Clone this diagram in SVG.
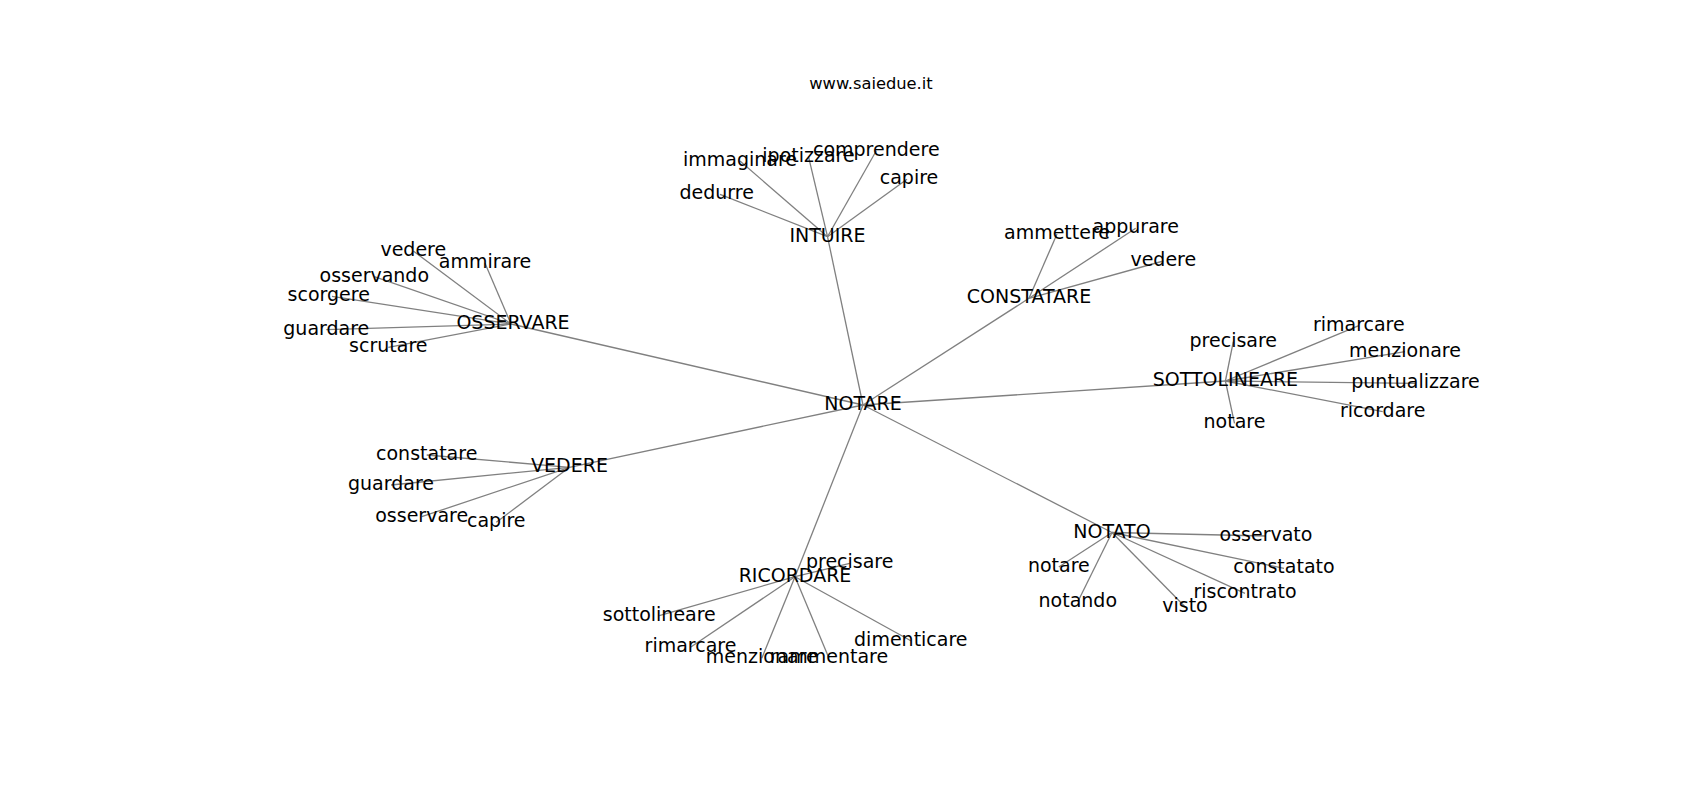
<svg xmlns="http://www.w3.org/2000/svg" width="1700" height="800" viewBox="0 0 1700 800">
<style>
text{font-family:"DejaVu Sans","Liberation Sans",sans-serif;font-size:19px;fill:#000;text-anchor:middle}
.title{font-size:16.3px}
.e line{stroke:#808080;stroke-width:1.3}
</style>
<rect width="1700" height="800" fill="#fff"/>
<text class="title" x="871" y="89">www.saiedue.it</text>
<g class="e" id="connectors">
<line x1="863" y1="405" x2="827.5" y2="236.7"/>
<line x1="863" y1="405" x2="1029" y2="298.3"/>
<line x1="863" y1="405" x2="1225.4" y2="381"/>
<line x1="863" y1="405" x2="1112" y2="532.5"/>
<line x1="863" y1="405" x2="795" y2="576.7"/>
<line x1="863" y1="405" x2="569.5" y2="467.3"/>
<line x1="863" y1="405" x2="511" y2="324"/>
<line x1="827.5" y1="236.7" x2="740" y2="161"/>
<line x1="827.5" y1="236.7" x2="808.5" y2="156.7"/>
<line x1="827.5" y1="236.7" x2="876.3" y2="150.7"/>
<line x1="827.5" y1="236.7" x2="907" y2="179.3"/>
<line x1="827.5" y1="236.7" x2="720" y2="194.3"/>
<line x1="511" y1="324" x2="413.3" y2="251"/>
<line x1="511" y1="324" x2="485" y2="263.3"/>
<line x1="511" y1="324" x2="374.3" y2="276.7"/>
<line x1="511" y1="324" x2="332" y2="296.3"/>
<line x1="511" y1="324" x2="326.3" y2="329.7"/>
<line x1="511" y1="324" x2="388.3" y2="347.3"/>
<line x1="569.5" y1="467.3" x2="426.7" y2="455"/>
<line x1="569.5" y1="467.3" x2="391" y2="485"/>
<line x1="569.5" y1="467.3" x2="421.7" y2="516.7"/>
<line x1="569.5" y1="467.3" x2="496.3" y2="522.3"/>
<line x1="795" y1="576.7" x2="849.7" y2="563.3"/>
<line x1="795" y1="576.7" x2="659.3" y2="615.7"/>
<line x1="795" y1="576.7" x2="690.5" y2="647.3"/>
<line x1="795" y1="576.7" x2="761.8" y2="658.3"/>
<line x1="795" y1="576.7" x2="829" y2="658.3"/>
<line x1="795" y1="576.7" x2="910.8" y2="640.7"/>
<line x1="1112" y1="532.5" x2="1266" y2="536"/>
<line x1="1112" y1="532.5" x2="1058.8" y2="567"/>
<line x1="1112" y1="532.5" x2="1284" y2="568.3"/>
<line x1="1112" y1="532.5" x2="1077.8" y2="601.7"/>
<line x1="1112" y1="532.5" x2="1245" y2="593.3"/>
<line x1="1112" y1="532.5" x2="1185" y2="606.7"/>
<line x1="1225.4" y1="381" x2="1233.3" y2="341.7"/>
<line x1="1225.4" y1="381" x2="1358.8" y2="325.7"/>
<line x1="1225.4" y1="381" x2="1405" y2="351.7"/>
<line x1="1225.4" y1="381" x2="1415.5" y2="383.3"/>
<line x1="1225.4" y1="381" x2="1382.7" y2="411.7"/>
<line x1="1225.4" y1="381" x2="1234.5" y2="423.3"/>
<line x1="1029" y1="298.3" x2="1057" y2="234"/>
<line x1="1029" y1="298.3" x2="1135.7" y2="228.3"/>
<line x1="1029" y1="298.3" x2="1163.3" y2="261"/>
</g>
<g id="n-notare"><text x="863" y="410">NOTARE</text></g>
<g id="n-intuire"><text x="827.5" y="241.7">INTUIRE</text></g>
<g id="n-constatare"><text x="1029" y="303.3">CONSTATARE</text></g>
<g id="n-sottolineare"><text x="1225.4" y="386">SOTTOLINEARE</text></g>
<g id="n-notato"><text x="1112" y="537.5">NOTATO</text></g>
<g id="n-ricordare"><text x="795" y="581.7">RICORDARE</text></g>
<g id="n-vedere"><text x="569.5" y="472.3">VEDERE</text></g>
<g id="n-osservare"><text x="513" y="329">OSSERVARE</text></g>
<g id="n-intuire-leaves">
<text x="740" y="166">immaginare</text>
<text x="808.5" y="161.7">ipotizzare</text>
<text x="876.3" y="155.7">comprendere</text>
<text x="909" y="184.3">capire</text>
<text x="716.7" y="199.3">dedurre</text>
</g>
<g id="n-osservare-leaves">
<text x="413.3" y="256">vedere</text>
<text x="485" y="268.3">ammirare</text>
<text x="374.3" y="281.7">osservando</text>
<text x="328.7" y="301.3">scorgere</text>
<text x="326.3" y="334.7">guardare</text>
<text x="388.3" y="352.3">scrutare</text>
</g>
<g id="n-vedere-leaves">
<text x="426.7" y="460">constatare</text>
<text x="391" y="490">guardare</text>
<text x="421.7" y="521.7">osservare</text>
<text x="496.3" y="527.3">capire</text>
</g>
<g id="n-ricordare-leaves">
<text x="849.7" y="568.3">precisare</text>
<text x="659.3" y="620.7">sottolineare</text>
<text x="690.5" y="652.3">rimarcare</text>
<text x="761.8" y="663.3">menzionare</text>
<text x="829" y="663.3">rammentare</text>
<text x="910.8" y="645.7">dimenticare</text>
</g>
<g id="n-notato-leaves">
<text x="1266" y="541">osservato</text>
<text x="1058.8" y="572">notare</text>
<text x="1284" y="573.3">constatato</text>
<text x="1077.8" y="606.7">notando</text>
<text x="1245" y="598.3">riscontrato</text>
<text x="1185" y="611.7">visto</text>
</g>
<g id="n-sottolineare-leaves">
<text x="1233.3" y="346.7">precisare</text>
<text x="1358.8" y="330.7">rimarcare</text>
<text x="1405" y="356.7">menzionare</text>
<text x="1415.5" y="388.3">puntualizzare</text>
<text x="1382.7" y="416.7">ricordare</text>
<text x="1234.5" y="428.3">notare</text>
</g>
<g id="n-constatare-leaves">
<text x="1057" y="239">ammettere</text>
<text x="1135.7" y="233.3">appurare</text>
<text x="1163.3" y="266">vedere</text>
</g>
</svg>
